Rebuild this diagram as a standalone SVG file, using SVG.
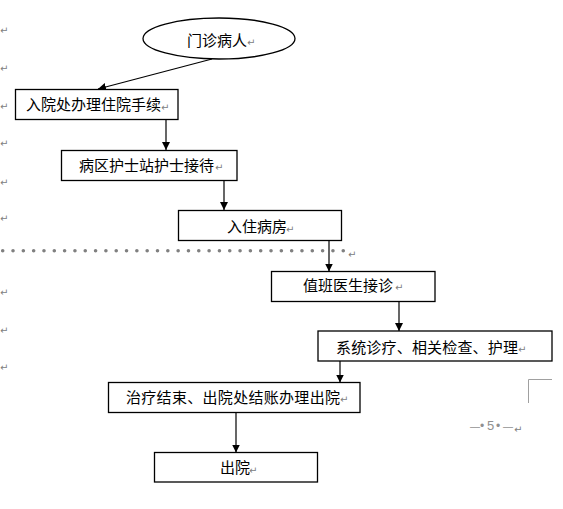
<svg xmlns="http://www.w3.org/2000/svg" width="563" height="509" viewBox="0 0 563 509">
<defs>
<style>
.n{fill:#fff;stroke:#000;stroke-width:1.3}
.t{font-family:"Noto Sans CJK SC","Noto Sans",sans-serif;font-size:15px;fill:#000}
.m{font-family:"DejaVu Sans",sans-serif;font-size:10px;fill:#808080}
.c{stroke:#000;stroke-width:1.2;fill:none}
.g{stroke:#a0a0a0;stroke-width:1;fill:none}
.p{font-family:"Liberation Sans",sans-serif;fill:#909090}
</style>
<marker id="ah" viewBox="0 0 10 10" refX="10" refY="5" markerWidth="8" markerHeight="8" markerUnits="userSpaceOnUse" orient="auto">
<path d="M0,0 L10,5 L0,10 z" fill="#000"/>
</marker>
</defs>
<rect width="563" height="509" fill="#fff"/>
<g id="margin">
<text class="m" x="0" y="34">↵</text>
<text class="m" x="0" y="72">↵</text>
<text class="m" x="0" y="110">↵</text>
<text class="m" x="0" y="147">↵</text>
<text class="m" x="0" y="186">↵</text>
<text class="m" x="0" y="222">↵</text>
<text class="m" x="0" y="296">↵</text>
<text class="m" x="0" y="334">↵</text>
<text class="m" x="0" y="371">↵</text>
</g>
<line x1="2.7" y1="250.7" x2="344" y2="250.7" stroke="#808080" stroke-width="3.6" stroke-linecap="round" stroke-dasharray="0 10.32"/>
<text class="m" x="348" y="258">↵</text>
<g id="connectors">
<line class="c" x1="212" y1="59" x2="98" y2="89" marker-end="url(#ah)"/>
<line class="c" x1="166" y1="119" x2="166" y2="150" marker-end="url(#ah)"/>
<line class="c" x1="224" y1="181" x2="224" y2="210" marker-end="url(#ah)"/>
<line class="c" x1="329" y1="240" x2="329" y2="271.5" marker-end="url(#ah)"/>
<line class="c" x1="399" y1="302" x2="399" y2="331" marker-end="url(#ah)"/>
<line class="c" x1="340" y1="361" x2="340" y2="382.5" marker-end="url(#ah)"/>
<line class="c" x1="236" y1="412.5" x2="236" y2="452.5" marker-end="url(#ah)"/>
</g>
<g id="n0">
<ellipse class="n" cx="219" cy="38.5" rx="76" ry="20.5"/>
<text class="t" x="187" y="45.5">门诊病人</text><text class="m" x="247" y="46">↵</text>
</g>
<g id="n1">
<rect class="n" x="15.5" y="89.5" width="162.5" height="30"/>
<text class="t" x="26" y="110">入院处办理住院手续</text><text class="m" x="161" y="111">↵</text>
</g>
<g id="n2">
<rect class="n" x="61.5" y="150.5" width="175.5" height="30"/>
<text class="t" x="79" y="170.5">病区护士站护士接待</text><text class="m" x="215" y="171">↵</text>
</g>
<g id="n3">
<rect class="n" x="178.5" y="210.5" width="163" height="30"/>
<text class="t" x="227" y="232">入住病房</text><text class="m" x="286" y="233">↵</text>
</g>
<g id="n4">
<rect class="n" x="271.5" y="271.5" width="163.5" height="30"/>
<text class="t" x="303" y="290.5">值班医生接诊</text><text class="m" x="395" y="291">↵</text>
</g>
<g id="n5">
<rect class="n" x="318" y="331" width="234" height="30"/>
<text class="t" x="336" y="352.5" textLength="182">系统诊疗、相关检查、护理</text><text class="m" x="518" y="353">↵</text>
</g>
<g id="n6">
<rect class="n" x="108.5" y="382.5" width="251.5" height="30"/>
<text class="t" x="126" y="402.5" textLength="214">治疗结束、出院处结账办理出院</text><text class="m" x="340" y="403">↵</text>
</g>
<g id="n7">
<rect class="n" x="154.5" y="452.5" width="163" height="29.5"/>
<text class="t" x="220" y="473">出院</text><text class="m" x="249" y="474">↵</text>
</g>
<path class="g" d="M528.5,403 V379.5 H552"/>
<text class="p" y="430" font-size="13"><tspan x="470" font-size="10">—</tspan><tspan x="480" font-size="12">•</tspan><tspan x="487">5</tspan><tspan x="496" font-size="12">•</tspan><tspan x="503" font-size="10">—</tspan></text>
<text class="m" x="514" y="433">↵</text>
</svg>
